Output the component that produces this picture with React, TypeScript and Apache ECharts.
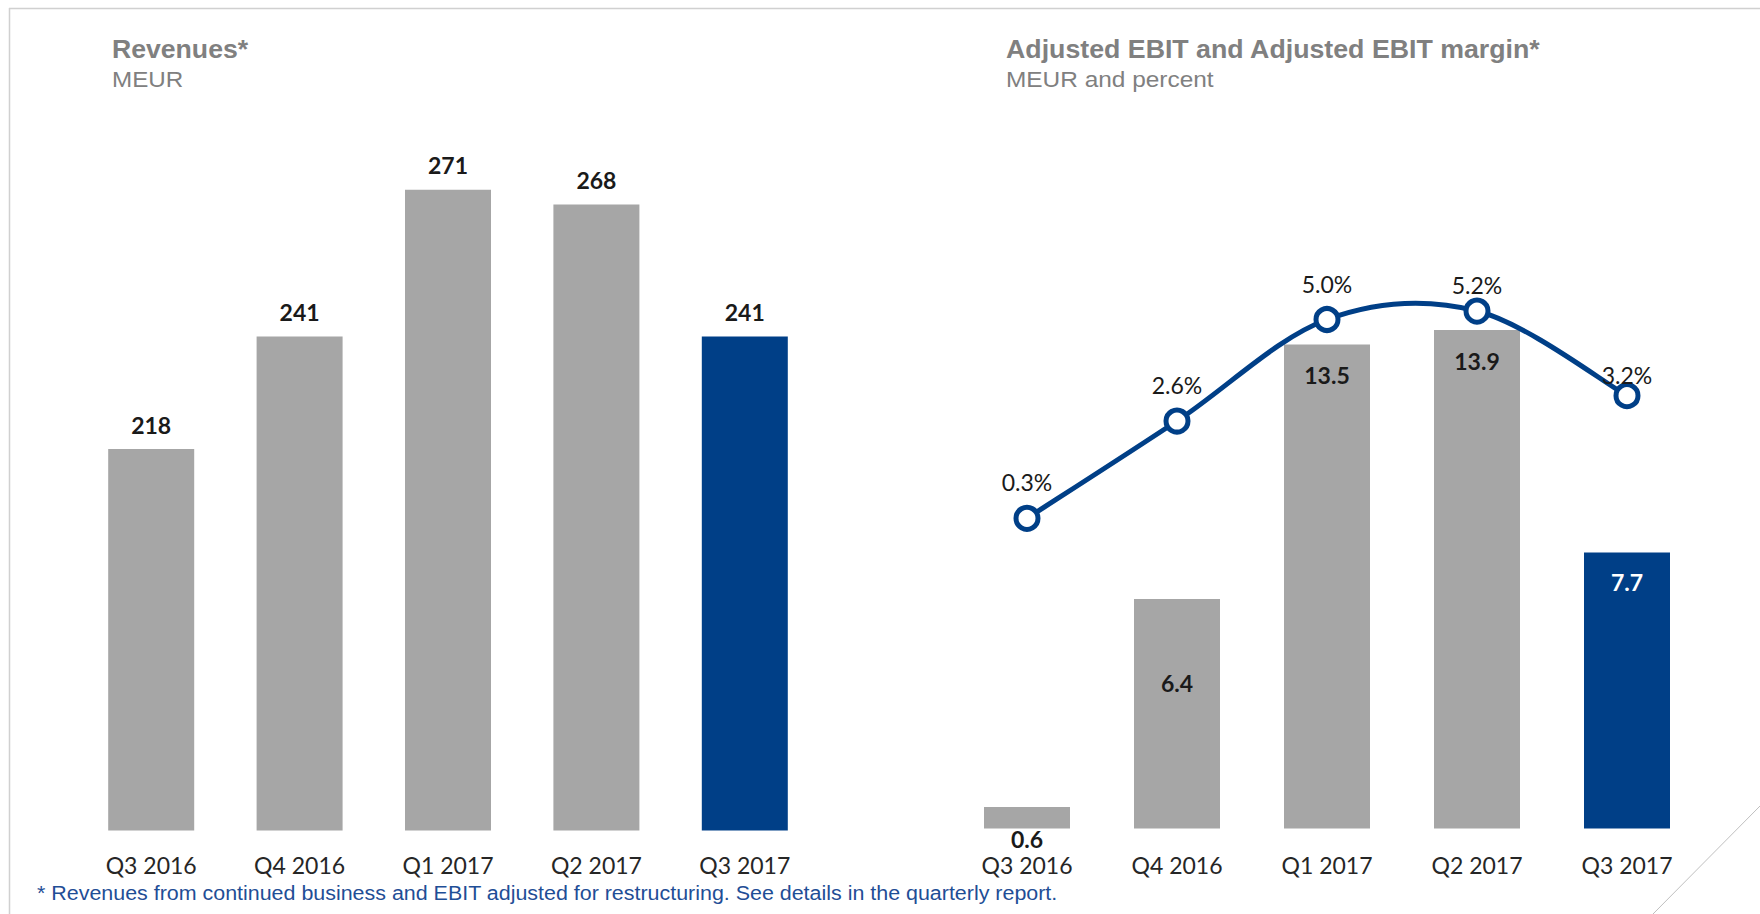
import React, { useEffect, useRef } from "react";
import * as echarts from "echarts";

const categories = ["Q3 2016", "Q4 2016", "Q1 2017", "Q2 2017", "Q3 2017"];
const revenues = [218, 241, 271, 268, 241];
const adjustedEbit = [0.6, 6.4, 13.5, 13.9, 7.7];
const ebitMargin = [0.3, 2.6, 5.0, 5.2, 3.2];

const leftTitle = "Revenues*";
const leftSubtitle = "MEUR";
const rightTitle = "Adjusted EBIT and Adjusted EBIT margin*";
const rightSubtitle = "MEUR and percent";
const footnote =
  "* Revenues from continued business and EBIT adjusted for restructuring. See details in the quarterly report.";

const GRAY = "#A6A6A6";
const BLUE = "#003F87";
const TITLE_GRAY = "#808080";
const LABEL_FONT = "Lato, 'Open Sans', sans-serif";
const SANS = "'Liberation Sans', Arial, sans-serif";

export default function App() {
  const ref = useRef<HTMLDivElement>(null);

  useEffect(() => {
    if (!ref.current) return;
    const chart = echarts.init(ref.current, null, { renderer: "svg" });
    const last = categories.length - 1;
    const n = ebitMargin.length;

    const catAxis = (gridIndex: number, margin: number) => ({
      type: "category",
      gridIndex,
      data: categories,
      axisLine: { show: false },
      axisTick: { show: false },
      axisLabel: {
        show: gridIndex !== 2,
        margin,
        fontFamily: LABEL_FONT,
        fontSize: 23,
        color: "#262626",
      },
    });

    const ebitLabel = (i: number) => {
      if (i === 0) return { position: "bottom", distance: -1 };
      if (i === 1) return { position: "insideTop", distance: 73 };
      if (i === last) return { position: "insideTop", distance: 18, color: "#FFFFFF" };
      return { position: "insideTop", distance: 19 };
    };
    const marginLabelDistance = [11, 11, 11, 1, -4];

    const headText = (text: string, x: number, y: number, size: number, bold: boolean, sx: number, fill: string) => ({
      type: "text",
      x,
      y,
      scaleX: sx,
      silent: true,
      style: {
        text,
        fontFamily: SANS,
        fontWeight: bold ? "bold" : "normal",
        fontSize: size,
        fill,
        align: "left",
        verticalAlign: "middle",
      },
    });

    // Catmull-Rom style smoothed segment between point i and i+1 (Excel-like smoothing)
    const renderSmoothSegment = (params: any, api: any) => {
      const i = params.dataIndex;
      if (i >= n - 1) return null;
      const c = (k: number) => {
        const j = Math.max(0, Math.min(n - 1, k));
        return api.coord([j, ebitMargin[j]]);
      };
      const p0 = c(i - 1);
      const p1 = c(i);
      const p2 = c(i + 1);
      const p3 = c(i + 2);
      return {
        type: "bezierCurve",
        shape: {
          x1: p1[0],
          y1: p1[1],
          x2: p2[0],
          y2: p2[1],
          cpx1: p1[0] + (p2[0] - p0[0]) / 6,
          cpy1: p1[1] + (p2[1] - p0[1]) / 6,
          cpx2: p2[0] - (p3[0] - p1[0]) / 6,
          cpy2: p2[1] - (p3[1] - p1[1]) / 6,
        },
        style: { stroke: BLUE, lineWidth: 5, fill: null, lineCap: "round" },
      };
    };

    const option = {
      animation: false,
      backgroundColor: "#FFFFFF",
      grid: [
        { left: 77, width: 742, top: 48, bottom: 83.5 },
        { left: 952, right: 58, top: 111.3, bottom: 85.5 },
        { left: 952, right: 58, top: 108, bottom: 383 },
      ],
      xAxis: [catAxis(0, 23), catAxis(1, 25), catAxis(2, 0)],
      yAxis: [
        { type: "value", gridIndex: 0, min: 140, max: 300, show: false, splitLine: { show: false } },
        { type: "value", gridIndex: 1, min: 0, max: 20, show: false, splitLine: { show: false } },
        { type: "value", gridIndex: 2, min: 0, max: 10, show: false, splitLine: { show: false } },
      ],
      series: [
        {
          type: "bar",
          xAxisIndex: 0,
          yAxisIndex: 0,
          barWidth: 86,
          data: revenues.map((v, i) => ({
            value: v,
            itemStyle: { color: i === last ? BLUE : GRAY },
          })),
          label: {
            show: true,
            position: "top",
            distance: 13,
            fontFamily: LABEL_FONT,
            fontWeight: "bold",
            fontSize: 23,
            color: "#1A1A1A",
          },
        },
        {
          type: "bar",
          xAxisIndex: 1,
          yAxisIndex: 1,
          barWidth: 86,
          data: adjustedEbit.map((v, i) => ({
            value: v,
            itemStyle: { color: i === last ? BLUE : GRAY },
            label: ebitLabel(i),
          })),
          label: {
            show: true,
            fontFamily: LABEL_FONT,
            fontWeight: "bold",
            fontSize: 23,
            color: "#1A1A1A",
            formatter: (p: any) => Number(p.value).toFixed(1),
          },
        },
        {
          type: "custom",
          xAxisIndex: 2,
          yAxisIndex: 2,
          data: ebitMargin.map((v, i) => [i, v]),
          renderItem: renderSmoothSegment,
          silent: true,
          z: 4,
        },
        {
          type: "line",
          xAxisIndex: 2,
          yAxisIndex: 2,
          symbol: "circle",
          symbolSize: 22,
          lineStyle: { color: BLUE, width: 0, opacity: 0 },
          itemStyle: { color: "#FFFFFF", borderColor: BLUE, borderWidth: 5 },
          data: ebitMargin.map((v, i) => ({
            value: v,
            label: { distance: marginLabelDistance[i] },
          })),
          label: {
            show: true,
            position: "top",
            fontFamily: LABEL_FONT,
            fontSize: 23,
            color: "#1A1A1A",
            formatter: (p: any) => Number(p.value).toFixed(1) + "%",
          },
          z: 5,
        },
      ],
      graphic: [
        { type: "line", shape: { x1: 9, y1: 8.5, x2: 1760, y2: 8.5 }, style: { stroke: "#D0D0D0", lineWidth: 1.5 }, silent: true },
        { type: "line", shape: { x1: 9.5, y1: 8, x2: 9.5, y2: 914 }, style: { stroke: "#D0D0D0", lineWidth: 1.5 }, silent: true },
        { type: "line", shape: { x1: 1760, y1: 806, x2: 1653, y2: 914 }, style: { stroke: "#BFBFBF", lineWidth: 1 }, silent: true },
        headText(leftTitle, 112, 49.5, 25, true, 1.065, TITLE_GRAY),
        headText(leftSubtitle, 112, 79, 22, false, 1.1, TITLE_GRAY),
        headText(rightTitle, 1006, 49.5, 25, true, 1.07, TITLE_GRAY),
        headText(rightSubtitle, 1006, 79, 22, false, 1.11, TITLE_GRAY),
        headText(footnote, 37, 893, 20, false, 1.072, "#1F4E96"),
      ],
    };

    chart.setOption(option as any);
    return () => chart.dispose();
  }, []);

  return (
    <div
      ref={ref}
      style={{ position: "fixed", left: 0, top: 0, width: 1760, height: 914, background: "#fff" }}
    />
  );
}
